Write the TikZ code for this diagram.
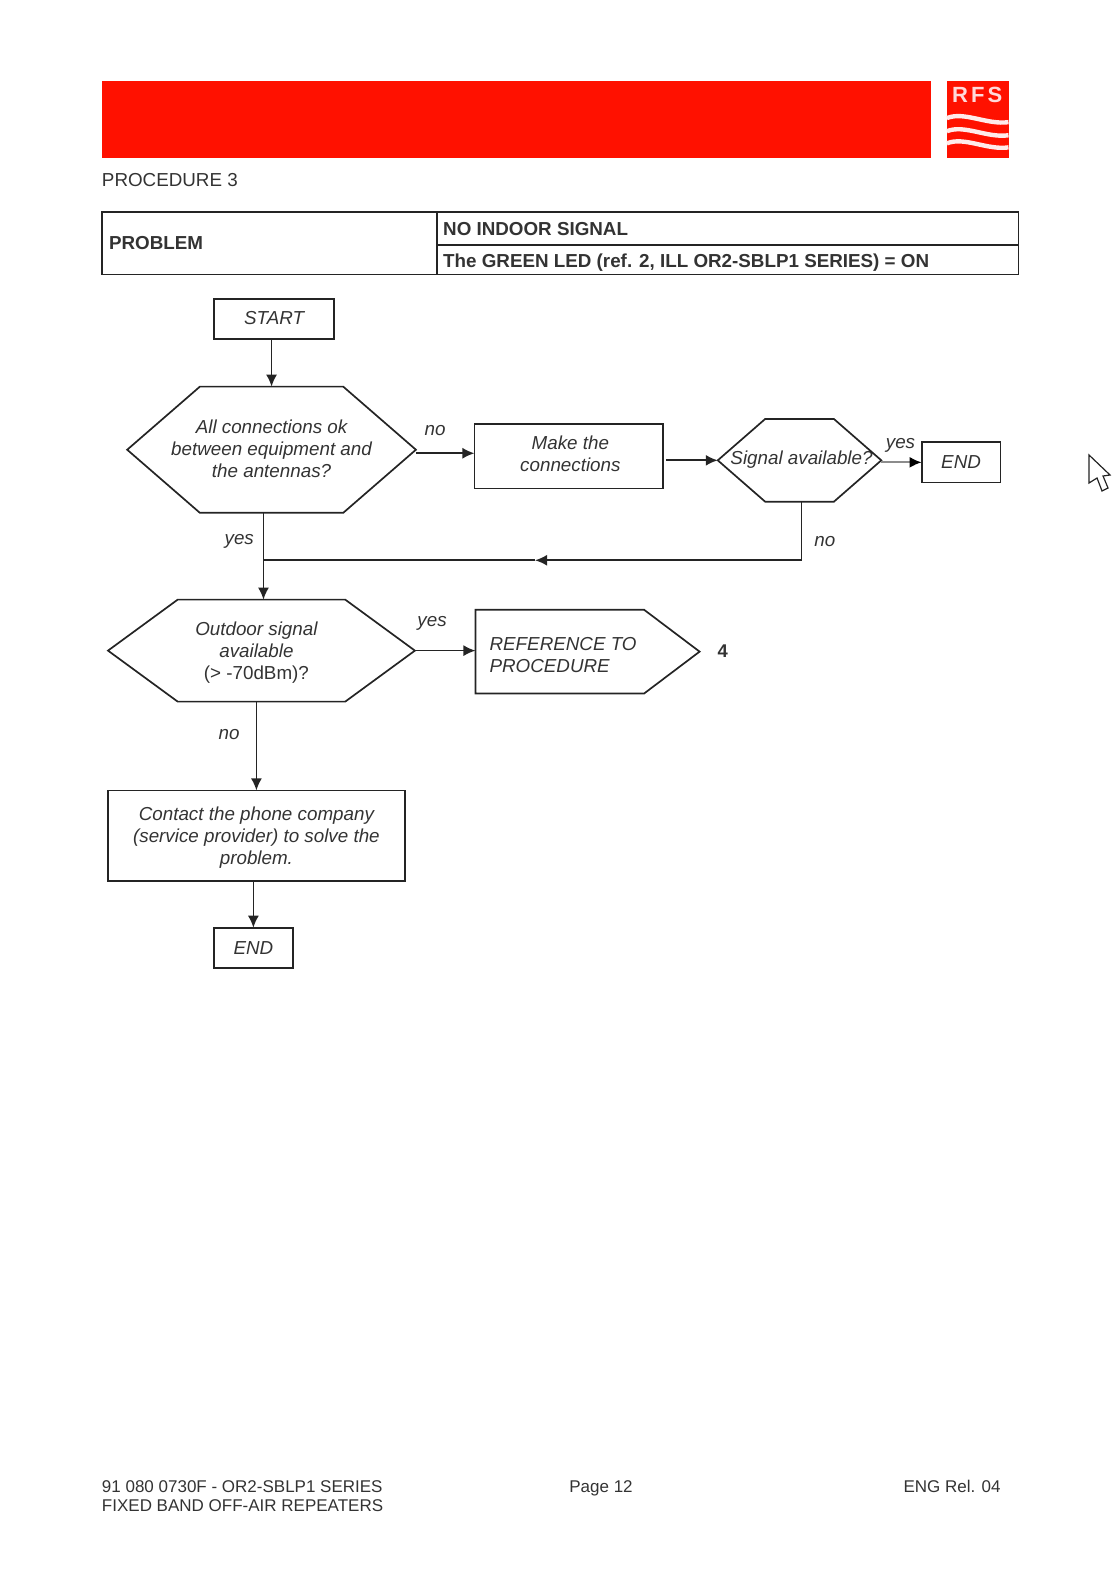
\documentclass[tikz,border=0pt]{standalone}
\usepackage{fontspec}
\setmainfont{Liberation Sans}
\usetikzlibrary{arrows.meta,calc}
\newcommand{\pxu}{0.50475pt}
\definecolor{ink}{HTML}{242424}
\definecolor{txt}{HTML}{333333}
\definecolor{rfsred}{HTML}{FF1100}
\tikzset{
  line/.style={draw=ink,line width=0.85pt},
  arrow/.style={line,-{Latex[length=6pt,width=5.5pt]}},
  grayarrow/.style={draw=black!45,line width=1.1pt,-{Latex[length=6pt,width=5.5pt,black]}},
  flow/.style={font=\fontsize{9.4pt}{11pt}\selectfont\itshape,text=txt,align=center,inner sep=0pt,outer sep=0pt},
  boxed/.style={flow,draw=ink,line width=0.85pt},
  plain/.style={font=\fontsize{9.4pt}{10pt}\selectfont,text=txt,inner sep=0pt,outer sep=0pt},
  foot/.style={font=\fontsize{8.5pt}{10pt}\selectfont,text=txt,inner sep=0pt,outer sep=0pt,anchor=base west},
  strong/.style={font=\fontsize{9.4pt}{10pt}\selectfont\bfseries,text=txt,inner sep=0pt,outer sep=0pt,anchor=west},
  lab/.style={font=\fontsize{9.4pt}{11pt}\selectfont\itshape,text=txt,inner sep=0pt},
  wave/.style={draw=white!92!red,line width=2.2pt}
}
\newcommand{\hexa}[2]{\draw[line] (#1.west) -- ($(#1.north west)+(#2,0)$) -- ($(#1.north east)+(-#2,0)$) -- (#1.east) -- ($(#1.south east)+(-#2,0)$) -- ($(#1.south west)+(#2,0)$) -- cycle;}
\begin{document}
\begin{tikzpicture}[x=\pxu,y=-\pxu]
\useasboundingbox (0,0) rectangle (1105.5,1568.1);
% header
\fill[rfsred] (101,80) rectangle (922,157);
\fill[rfsred] (938,80) rectangle (999,157);
\node[font=\fontsize{11pt}{12pt}\selectfont\bfseries,text=white!85!red,inner sep=0pt] (rfs) at (968,94) {R\kern1.6pt F\kern1.6pt S};
\draw[wave] (938,117) .. controls (955,110) and (978,124) .. (999,121);
\draw[wave] (938,130) .. controls (955,123) and (978,137) .. (999,134);
\draw[wave] (938,142) .. controls (955,135) and (978,149) .. (999,146);
\node[plain,anchor=west] (proc) at (101,178) {PROCEDURE 3};
% table
\draw[line] (101,210) rectangle (1009,272);
\draw[line] (433,210) -- (433,272);
\draw[line] (433,243) -- (1009,243);
\node[strong] (prob) at (108,241) {PROBLEM};
\node[strong] (nosig) at (439,227) {NO INDOOR SIGNAL};
\node[strong] (green) at (439,260.5) {The GREEN LED (ref. 2, ILL OR2-SBLP1 SERIES) = ON};
% nodes
\node[boxed,minimum width=119*\pxu,minimum height=40*\pxu] (start) at (271.5,316) {\raisebox{1.5pt}{START}};
\node[flow,minimum width=286*\pxu,minimum height=125*\pxu] (h1) at (269,445.5) {};
\node[flow] (h1t) at (269,444.5) {All connections ok\\between equipment and\\the antennas?};
\hexa{h1}{72}
\node[flow,draw=ink,line width=0.85pt,minimum width=187*\pxu,minimum height=64*\pxu] (make) at (563.5,452) {};
\node[flow] (maket) at (565,450) {Make the\\connections};
\node[flow,minimum width=162*\pxu,minimum height=82*\pxu] (h2) at (792,456) {};
\node[flow] (h2t) at (794,455.5) {Signal available?};
\hexa{h2}{47}
\node[boxed,minimum width=78*\pxu,minimum height=40*\pxu] (end1) at (952,458) {END};
\node[flow,minimum width=304*\pxu,minimum height=101*\pxu] (h3) at (259,644.5) {};
\node[flow] (h3t) at (254,646) {Outdoor signal\\available\\{\upshape (> -70dBm)?}};
\hexa{h3}{69}
\node[flow,minimum width=222*\pxu,minimum height=83*\pxu] (ref) at (582,645.5) {};
\draw[line] (ref.north west) -- ($(ref.north east)+(-55,0)$) -- (ref.east) -- ($(ref.south east)+(-55,0)$) -- (ref.south west) -- cycle;
\node[flow,align=left,anchor=west] (reft) at (485,648.5) {REFERENCE TO\\PROCEDURE};
\node[font=\fontsize{9.2pt}{10pt}\selectfont\bfseries,text=txt,inner sep=0pt] (four) at (716,645) {4};
\node[flow,draw=ink,line width=0.85pt,minimum width=294*\pxu,minimum height=90*\pxu] (contact) at (254,828) {};
\node[flow] (contactt) at (254,830) {Contact the phone company\\(service provider) to solve the\\problem.};
\node[boxed,minimum width=78*\pxu,minimum height=40*\pxu] (end2) at (251,939) {END};
% connectors
\coordinate (cor) at (794,555);
\coordinate (mid) at (530,555);
\coordinate (jn) at (261,555);
\draw[arrow] (h1.north |- start.south) -- (h1.north);
\draw[arrow] (h1.east |- make) ++(0,-3) coordinate (a1) -- (make.west |- a1);
\draw[arrow] (660,456) coordinate (a2) -- (h2.west);
\draw[grayarrow] (h2.east |- end1) -- (end1.west);
\draw[line] (cor |- h2.south) -- (cor);
\draw[arrow] (cor) -- (mid);
\draw[line] (mid) -- (jn);
\draw[line] (jn |- h1.south) -- (jn);
\draw[arrow] (jn) -- (jn |- h3.north);
\draw[arrow] (h3.east) -- (h3.east -| ref.west);
\draw[arrow] (contact.north |- h3.south) -- (contact.north);
\draw[arrow] (end2.north |- contact.south) -- (end2.north);
% labels
\node[lab] (l1) at (431,426) {no};
\node[lab] (l2) at (892,441) {yes};
\node[lab] (l3) at (817,536) {no};
\node[lab] (l4) at (237,536) {yes};
\node[lab] (l5) at (428,617.5) {yes};
\node[lab] (l6) at (227,728) {no};
% footer
\node[foot] (f1) at (101,1478) {91 080 0730F - OR2-SBLP1 SERIES};
\node[foot] (f2) at (101,1497.5) {FIXED BAND OFF-AIR REPEATERS};
\node[foot] (f3) at (564,1478) {Page 12};
\node[foot] (f4) at (895,1478) {ENG Rel. 04};
% cursor
\begin{scope}[x=0.5pt,y=-0.5pt]
\draw[draw=ink,line width=0.6pt,fill=white] (1089,455) -- (1089,483) -- (1097,478) -- (1102,491) -- (1108,488) -- (1103,476) -- (1110,475) -- cycle;
\end{scope}
\end{tikzpicture}
\end{document}
